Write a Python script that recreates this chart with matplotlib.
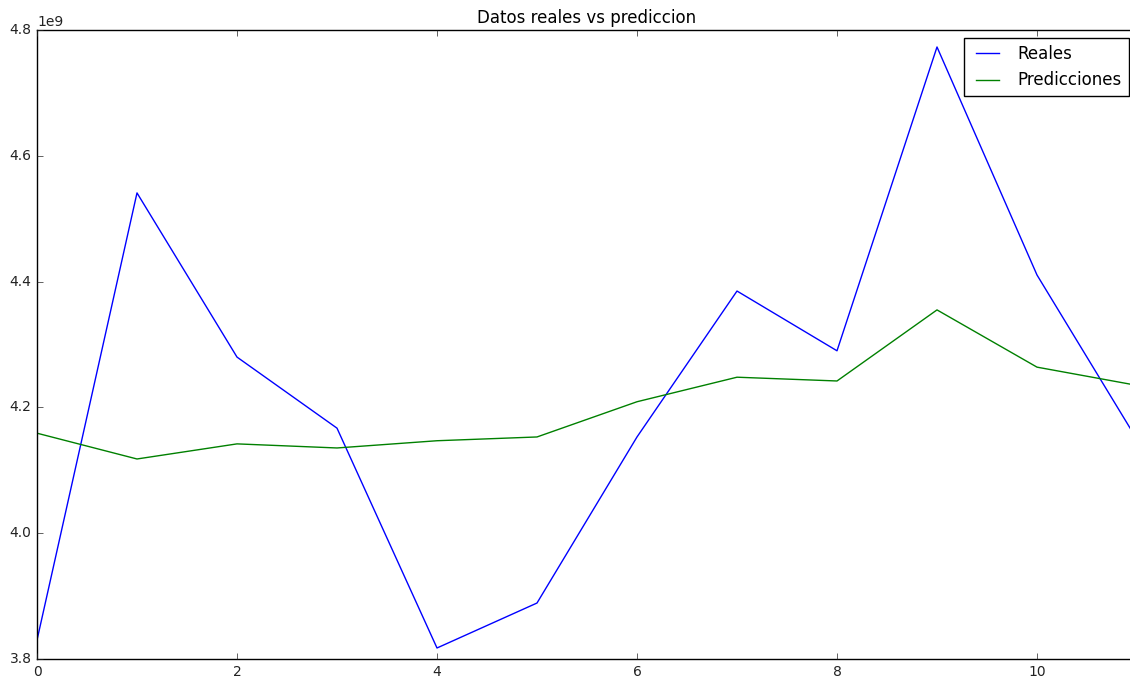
import matplotlib
matplotlib.use('Agg')
import matplotlib.pyplot as plt
import numpy as np

plt.style.use('classic')

# valores reales y predichos por periodo
periodos = np.arange(12)
reales = [3.830e9, 4.541e9, 4.280e9, 4.167e9, 3.8175e9, 3.889e9,
          4.153e9, 4.385e9, 4.290e9, 4.773e9, 4.4105e9, 4.149e9]
predicciones = [4.159e9, 4.118e9, 4.142e9, 4.1355e9, 4.147e9, 4.153e9,
                4.209e9, 4.248e9, 4.242e9, 4.355e9, 4.264e9, 4.235e9]

fig = plt.figure(figsize=(11.3, 6.79), dpi=100, facecolor='white')
# el eje derecho queda fuera del lienzo
ax = fig.add_axes([37 / 1130, 1 - 659 / 679, 1100 / 1130, 629 / 679])

ax.plot(periodos, reales, color='b', lw=1.0, label='Reales')
ax.plot(periodos, predicciones, color='g', lw=1.0, label='Predicciones')

ax.set_xlim(0, 11)
ax.set_ylim(3.8e9, 4.8e9)
ax.set_xticks([0, 2, 4, 6, 8, 10])
ax.set_yticks(np.arange(3.8e9, 4.81e9, 0.2e9))
ax.tick_params(labelsize=10, colors='#222222', labelcolor='#222222')
ax.yaxis.get_offset_text().set_fontsize(10)
ax.set_title('Datos reales vs prediccion', fontsize=12, y=1.0)

leg = ax.legend(loc='upper right', fontsize=12, borderaxespad=0.5)
leg.get_frame().set_linewidth(1.0)

fig.savefig('out.png', dpi=100, facecolor='white')
